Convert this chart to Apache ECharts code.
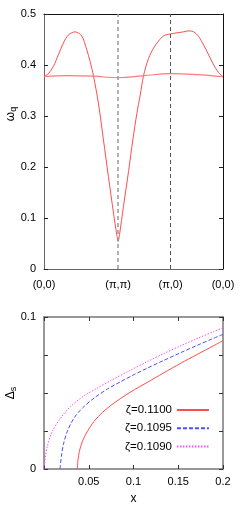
<!DOCTYPE html>
<html><head><meta charset="utf-8">
<script src="https://cdn.jsdelivr.net/npm/echarts@6/dist/echarts.min.js"></script>
<style>html,body{margin:0;padding:0;background:#fff}#c{width:249px;height:506px}</style>
</head><body><div id="c"></div>
<script>
// ---- top panel: dispersion along (0,0)-(pi,pi)-(pi,0)-(0,0)
const pathTickPos = [0, 1.414, 2.414, 3.414];
const pathTickLabels = ['(0,0)', '(π,π)', '(π,0)', '(0,0)'];
const kUpper = [0, 0.083, 0.178, 0.274, 0.369, 0.465, 0.592, 0.720, 0.815, 0.879, 0.943, 1.038, 1.134, 1.229, 1.325, 1.388, 1.414, 1.440, 1.516, 1.612, 1.694, 1.771, 1.835, 1.898, 1.994, 2.089, 2.185, 2.280, 2.414, 2.535, 2.662, 2.758, 2.854, 2.949, 3.045, 3.140, 3.236, 3.331, 3.414];
const omegaUpper = [0.377, 0.383, 0.397, 0.420, 0.443, 0.459, 0.465, 0.457, 0.430, 0.407, 0.379, 0.325, 0.253, 0.181, 0.110, 0.067, 0.054, 0.067, 0.123, 0.191, 0.253, 0.305, 0.341, 0.379, 0.413, 0.433, 0.447, 0.457, 0.461, 0.463, 0.465, 0.467, 0.465, 0.456, 0.439, 0.420, 0.400, 0.385, 0.377];
const kLower = [0, 0.433, 0.943, 1.414, 1.898, 2.414, 2.917, 3.414];
const omegaLower = [0.377, 0.379, 0.378, 0.375, 0.379, 0.383, 0.381, 0.377];

// ---- bottom panel: gap vs doping
const legendNames = ['ζ=0.1100', 'ζ=0.1095', 'ζ=0.1090'];
const xRed = [0.0373, 0.038, 0.0395, 0.0429, 0.0485, 0.056, 0.0653, 0.0746, 0.0858, 0.097, 0.1149, 0.1336, 0.1522, 0.1709, 0.1895, 0.2];
const dRed = [0, 0.0061, 0.0116, 0.0182, 0.0248, 0.0314, 0.0372, 0.0418, 0.0465, 0.0508, 0.0568, 0.0632, 0.0694, 0.0753, 0.0811, 0.0845];
const xBlue = [0.0179, 0.0194, 0.0216, 0.0261, 0.0336, 0.0429, 0.056, 0.0709, 0.0858, 0.1007, 0.1149, 0.1336, 0.1522, 0.1709, 0.1895, 0.2];
const dBlue = [0, 0.0083, 0.016, 0.0248, 0.0336, 0.0401, 0.0467, 0.0526, 0.0575, 0.0621, 0.0662, 0.0714, 0.0764, 0.0813, 0.086, 0.0886];
const xMag = [0, 0.0011, 0.0037, 0.0093, 0.0187, 0.0298, 0.0448, 0.0597, 0.0746, 0.0933, 0.1149, 0.1336, 0.1522, 0.1709, 0.1895, 0.2];
const dMag = [0, 0.0061, 0.0149, 0.0248, 0.0336, 0.0412, 0.0482, 0.0533, 0.0582, 0.064, 0.0705, 0.0759, 0.0809, 0.0858, 0.0904, 0.0929];

const zip = (a, b) => a.map((v, i) => [v, b[i]]);
const FONT = 'Liberation Sans';
const txt = {color: '#000', fontSize: 11, fontFamily: FONT};

const chart = echarts.init(document.getElementById('c'), null, {renderer: 'canvas'});
chart.setOption({
  animation: false,
  backgroundColor: '#fff',
  grid: [
    {left: 44, right: 26, top: 14, height: 255, containLabel: false},
    {left: 44, right: 26, top: 317, height: 152, containLabel: false}
  ],
  xAxis: [
    {gridIndex: 0, type: 'value', min: 0, max: 3.414, position: 'bottom',
     axisLine: {show: true, onZero: false, lineStyle: {color: '#666', width: 1}},
     axisTick: {show: false}, splitLine: {show: false},
     axisLabel: Object.assign({}, txt, {margin: 10, customValues: pathTickPos, showMinLabel: true, showMaxLabel: true,
       formatter: (v) => { let best = 0; pathTickPos.forEach((p, i) => { if (Math.abs(p - v) < Math.abs(pathTickPos[best] - v)) best = i; }); return pathTickLabels[best]; }})},
    {gridIndex: 0, type: 'value', min: 0, max: 3.414, position: 'top',
     axisLine: {show: true, onZero: false, lineStyle: {color: '#111', width: 1}},
     axisTick: {show: false}, axisLabel: {show: false}, splitLine: {show: false}},
    {gridIndex: 1, type: 'value', min: 0, max: 0.2, interval: 0.05, position: 'bottom',
     name: 'x', nameLocation: 'middle', nameGap: 24, nameTextStyle: Object.assign({}, txt, {fontSize: 12}),
     axisLine: {show: true, onZero: false, lineStyle: {color: '#777', width: 1.5}},
     axisTick: {show: true, inside: true, length: 4, lineStyle: {color: '#333'}},
     splitLine: {show: false},
     axisLabel: Object.assign({}, txt, {margin: 7, showMinLabel: true, showMaxLabel: true,
       formatter: (v) => v < 1e-9 ? '' : String(+v.toFixed(3))})},
    {gridIndex: 1, type: 'value', min: 0, max: 0.2, interval: 0.05, position: 'top',
     axisLine: {show: true, onZero: false, lineStyle: {color: '#777', width: 1.5}},
     axisTick: {show: true, inside: true, length: 4, lineStyle: {color: '#333'}},
     axisLabel: {show: false}, splitLine: {show: false}}
  ],
  yAxis: [
    {gridIndex: 0, type: 'value', min: 0, max: 0.5, interval: 0.1, position: 'left',
     axisLine: {show: true, onZero: false, lineStyle: {color: '#666', width: 1}},
     axisTick: {show: true, inside: true, length: 4, lineStyle: {color: '#222'}},
     splitLine: {show: false},
     axisLabel: Object.assign({}, txt, {margin: 8, formatter: (v) => String(+v.toFixed(2))})},
    {gridIndex: 0, type: 'value', min: 0, max: 0.5, interval: 0.1, position: 'right',
     axisLine: {show: true, onZero: false, lineStyle: {color: '#111', width: 1}},
     axisTick: {show: true, inside: true, length: 4, lineStyle: {color: '#222'}},
     axisLabel: {show: false}, splitLine: {show: false}},
    {gridIndex: 1, type: 'value', min: 0, max: 0.1, interval: 0.025, position: 'left',
     axisLine: {show: true, onZero: false, lineStyle: {color: '#777', width: 1.5}},
     axisTick: {show: true, inside: true, length: 4, lineStyle: {color: '#333'}},
     splitLine: {show: false},
     axisLabel: Object.assign({}, txt, {margin: 8, showMaxLabel: true,
       formatter: (v) => v < 1e-9 ? '0' : (Math.abs(v - 0.1) < 1e-9 ? '0.1' : '')})},
    {gridIndex: 1, type: 'value', min: 0, max: 0.1, interval: 0.025, position: 'right',
     axisLine: {show: true, onZero: false, lineStyle: {color: '#777', width: 1.5}},
     axisTick: {show: true, inside: true, length: 4, lineStyle: {color: '#333'}},
     axisLabel: {show: false}, splitLine: {show: false}}
  ],
  legend: {
    data: legendNames, orient: 'vertical', left: 125, top: 404, padding: 0,
    align: 'right', itemWidth: 32, itemHeight: 10, itemGap: 6.3,
    itemStyle: {opacity: 0},
    textStyle: Object.assign({}, txt, {fontSize: 11.5}), selectedMode: false
  },
  graphic: [
    {type: 'text', x: 11, y: 114, rotation: Math.PI / 2, style: {text: '{a|ω}{b|q}', fill: '#000', align: 'center', verticalAlign: 'middle',
      rich: {a: {fontSize: 12, fontFamily: FONT}, b: {fontSize: 9, fontFamily: FONT, verticalAlign: 'bottom', padding: [6, 0, 0, 0]}}}},
    {type: 'text', x: 11, y: 393, rotation: Math.PI / 2, style: {text: '{a|Δ}{b|s}', fill: '#000', align: 'center', verticalAlign: 'middle',
      rich: {a: {fontSize: 12, fontFamily: FONT}, b: {fontSize: 9, fontFamily: FONT, verticalAlign: 'bottom', padding: [6, 0, 0, 0]}}}}
  ],
  series: [
    {type: 'line', xAxisIndex: 0, yAxisIndex: 0, data: zip(kUpper, omegaUpper), smooth: 0.3,
     symbol: 'none', lineStyle: {color: '#ff4d4d', width: 1}, silent: true,
     markLine: {silent: true, symbol: 'none', label: {show: false},
       data: [
         {xAxis: pathTickPos[1], lineStyle: {color: '#999', width: 1.5, type: [4, 3]}},
         {xAxis: pathTickPos[2], lineStyle: {color: '#555', width: 1, type: [4, 3]}}
       ]}},
    {type: 'line', xAxisIndex: 0, yAxisIndex: 0, data: zip(kLower, omegaLower), smooth: 0.4,
     symbol: 'none', lineStyle: {color: '#ff7a7a', width: 1.2}, silent: true},
    {name: legendNames[0], type: 'line', xAxisIndex: 2, yAxisIndex: 2, data: zip(xRed, dRed), smooth: 0.3,
     symbol: 'none', itemStyle: {color: '#ff4d4d'}, lineStyle: {color: '#ff4d4d', width: 1}},
    {name: legendNames[1], type: 'line', xAxisIndex: 2, yAxisIndex: 2, data: zip(xBlue, dBlue), smooth: 0.3,
     symbol: 'none', itemStyle: {color: '#4d4dff'}, lineStyle: {color: '#4d4dff', width: 1, type: [4, 2]}},
    {name: legendNames[2], type: 'line', xAxisIndex: 2, yAxisIndex: 2, data: zip(xMag, dMag), smooth: 0.3,
     symbol: 'none', itemStyle: {color: '#ff4dff'}, lineStyle: {color: '#ff4dff', width: 1, type: [1.5, 1.5]}}
  ]
});
</script></body></html>
